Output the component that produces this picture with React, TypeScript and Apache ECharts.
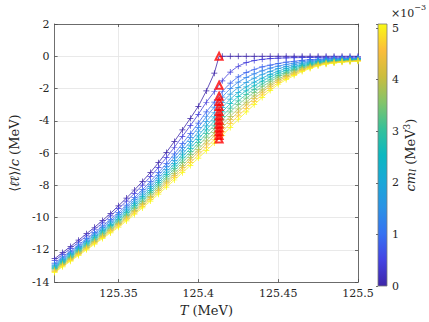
import React, { useEffect, useRef } from "react";
import * as echarts from "echarts";

// Temperature grid (MeV)
const TEMPERATURES = [
  125.31, 125.315, 125.32, 125.325, 125.33, 125.335, 125.34, 125.345, 125.35, 125.355,
  125.36, 125.365, 125.37, 125.375, 125.38, 125.385, 125.39, 125.395, 125.4, 125.405,
  125.41, 125.415, 125.42, 125.425, 125.43, 125.435, 125.44, 125.445, 125.45, 125.455,
  125.46, 125.465, 125.47, 125.475, 125.48, 125.485, 125.49, 125.495, 125.5,
];
const T_CRITICAL = 125.413;

// cm_l values (x 10^-3 MeV^3), one per curve
const CM_L = [0, 0.42, 0.85, 1.27, 1.69, 2.12, 2.54, 2.96, 3.39, 3.81, 4.23, 4.66, 5.08];
const CM_MAX = 5.08;

// cm_l = 0 curve: below T_c (on the first 21 temperatures) and above T_c
const CRIT_BELOW = [
  -12.55, -12.17, -11.79, -11.4, -11.0, -10.6, -10.18, -9.74, -9.27, -8.79,
  -8.29, -7.76, -7.2, -6.6, -5.96, -5.28, -4.57, -3.85, -3.1, -2.15, -1.05,
];
const CRIT_AT_TC = 0;
const CRIT_ABOVE = [0, 0, 0, 0, 0, 0, 0, 0, 0, 0, 0, 0, 0, 0, 0, 0, 0, 0];

const CURVE_1 = [-12.67, -12.29, -11.92, -11.53, -11.14, -10.74, -10.33, -9.9, -9.45, -8.98, -8.5, -7.99, -7.46, -6.89, -6.28, -5.64, -4.97, -4.3, -3.6, -2.85, -2.2, -1.52, -0.98, -0.62, -0.4, -0.27, -0.19, -0.15, -0.12, -0.1, -0.09, -0.08, -0.075, -0.07, -0.065, -0.06, -0.06, -0.055, -0.055];
const CURVE_2 = [-12.82, -12.44, -12.08, -11.69, -11.31, -10.92, -10.52, -10.11, -9.68, -9.23, -8.76, -8.27, -7.76, -7.22, -6.65, -6.05, -5.42, -4.79, -4.14, -3.45, -2.84, -2.2, -1.67, -1.28, -1.01, -0.82, -0.66, -0.55, -0.45, -0.37, -0.31, -0.25, -0.21, -0.18, -0.15, -0.13, -0.12, -0.11, -0.11];
const CURVE_3 = [-12.89, -12.52, -12.15, -11.78, -11.4, -11.01, -10.62, -10.22, -9.8, -9.35, -8.89, -8.41, -7.92, -7.39, -6.83, -6.25, -5.65, -5.04, -4.41, -3.75, -3.15, -2.53, -2.01, -1.61, -1.32, -1.09, -0.9, -0.74, -0.61, -0.51, -0.42, -0.34, -0.28, -0.23, -0.19, -0.17, -0.15, -0.14, -0.13];
const CURVE_4 = [-12.96, -12.59, -12.23, -11.86, -11.48, -11.1, -10.72, -10.32, -9.91, -9.47, -9.02, -8.55, -8.07, -7.55, -7.01, -6.45, -5.87, -5.29, -4.68, -4.05, -3.47, -2.87, -2.35, -1.94, -1.62, -1.36, -1.13, -0.94, -0.77, -0.64, -0.53, -0.43, -0.35, -0.28, -0.24, -0.2, -0.18, -0.17, -0.16];
const CURVE_5 = [-13.03, -12.66, -12.3, -11.93, -11.56, -11.19, -10.81, -10.42, -10.01, -9.58, -9.14, -8.68, -8.21, -7.7, -7.18, -6.64, -6.07, -5.51, -4.93, -4.32, -3.76, -3.18, -2.66, -2.24, -1.9, -1.61, -1.35, -1.12, -0.92, -0.76, -0.63, -0.51, -0.41, -0.33, -0.27, -0.24, -0.21, -0.2, -0.18];
const CURVE_6 = [-13.09, -12.72, -12.37, -12.0, -11.63, -11.26, -10.88, -10.5, -10.11, -9.68, -9.25, -8.79, -8.33, -7.84, -7.32, -6.8, -6.25, -5.71, -5.15, -4.56, -4.01, -3.45, -2.94, -2.5, -2.14, -1.83, -1.54, -1.28, -1.05, -0.87, -0.72, -0.58, -0.47, -0.37, -0.31, -0.27, -0.24, -0.22, -0.2];
const CURVE_7 = [-13.15, -12.78, -12.43, -12.06, -11.7, -11.33, -10.96, -10.58, -10.2, -9.78, -9.35, -8.91, -8.45, -7.97, -7.47, -6.96, -6.43, -5.91, -5.36, -4.8, -4.27, -3.72, -3.21, -2.77, -2.38, -2.05, -1.72, -1.44, -1.18, -0.98, -0.81, -0.65, -0.52, -0.42, -0.34, -0.29, -0.26, -0.24, -0.22];
const CURVE_8 = [-13.2, -12.84, -12.48, -12.12, -11.76, -11.4, -11.03, -10.66, -10.28, -9.87, -9.44, -9.01, -8.55, -8.09, -7.6, -7.1, -6.59, -6.08, -5.55, -5.01, -4.49, -3.95, -3.45, -3.0, -2.6, -2.24, -1.89, -1.58, -1.29, -1.07, -0.89, -0.71, -0.57, -0.45, -0.37, -0.32, -0.28, -0.26, -0.24];
const CURVE_9 = [-13.25, -12.9, -12.54, -12.19, -11.83, -11.47, -11.11, -10.74, -10.37, -9.96, -9.55, -9.12, -8.68, -8.22, -7.74, -7.26, -6.77, -6.28, -5.77, -5.25, -4.74, -4.22, -3.72, -3.26, -2.84, -2.45, -2.08, -1.73, -1.42, -1.18, -0.98, -0.78, -0.62, -0.49, -0.41, -0.35, -0.31, -0.28, -0.26];
const CURVE_10 = [-13.3, -12.94, -12.59, -12.24, -11.88, -11.52, -11.16, -10.8, -10.44, -10.04, -9.63, -9.2, -8.77, -8.32, -7.85, -7.39, -6.91, -6.42, -5.93, -5.43, -4.94, -4.43, -3.93, -3.46, -3.02, -2.62, -2.22, -1.85, -1.52, -1.26, -1.05, -0.83, -0.66, -0.53, -0.43, -0.37, -0.33, -0.3, -0.27];
const CURVE_11 = [-13.35, -13.0, -12.65, -12.29, -11.94, -11.59, -11.23, -10.88, -10.52, -10.12, -9.72, -9.3, -8.87, -8.43, -7.98, -7.53, -7.06, -6.6, -6.12, -5.64, -5.16, -4.66, -4.17, -3.69, -3.24, -2.81, -2.39, -1.99, -1.64, -1.36, -1.12, -0.89, -0.71, -0.56, -0.46, -0.4, -0.35, -0.32, -0.29];
const CURVE_12 = [-13.4, -13.05, -12.7, -12.35, -12.0, -11.65, -11.3, -10.95, -10.6, -10.21, -9.81, -9.4, -8.98, -8.55, -8.11, -7.67, -7.22, -6.77, -6.31, -5.85, -5.38, -4.9, -4.41, -3.92, -3.45, -3.0, -2.55, -2.13, -1.75, -1.45, -1.2, -0.95, -0.76, -0.6, -0.49, -0.42, -0.37, -0.34, -0.31];

// value of each curve at T_c (red triangles)
const TC_VALUES = [0, -1.8, -2.48, -2.8, -3.12, -3.42, -3.7, -3.96, -4.21, -4.45, -4.68, -4.91, -5.13];

const X_TICKS = [125.35, 125.4, 125.45, 125.5];
const Y_MIN = -14;
const Y_MAX = 2;
const Y_STEP = 2;

// colormap (parula-like)
const PARULA = [
  "#3e26a8", "#4443e4", "#3672f2", "#2a93e5", "#19a8d8", "#0bb8c0",
  "#36c199", "#83c46a", "#cbbd3e", "#fbbd3b", "#f9f915",
];

function hexToRgb(h: string) {
  const n = parseInt(h.slice(1), 16);
  return [(n >> 16) & 255, (n >> 8) & 255, n & 255];
}
function parula(t: number): string {
  const tt = Math.max(0, Math.min(1, t)) * (PARULA.length - 1);
  const i = Math.min(PARULA.length - 2, Math.floor(tt));
  const f = tt - i;
  const a = hexToRgb(PARULA[i]);
  const b = hexToRgb(PARULA[i + 1]);
  const c = a.map((v, k) => Math.round(v + (b[k] - v) * f));
  return `rgb(${c[0]},${c[1]},${c[2]})`;
}

const FONT = "DejaVu Serif";
const INK = "#262626";
const PLUS = "path://M4.4,0H5.6V10H4.4ZM0,4.4H10V5.6H0Z";

function lineSeries(data: any[], color: string, smooth: number | boolean) {
  return {
    type: "line",
    data,
    smooth,
    symbol: PLUS,
    symbolSize: 6,
    showSymbol: true,
    showAllSymbol: true,
    silent: true,
    itemStyle: { color },
    lineStyle: { color, width: 0.8 },
    emphasis: { disabled: true },
  };
}

export default function App() {
  const ref = useRef<HTMLDivElement>(null);
  useEffect(() => {
    const chart = echarts.init(ref.current!, null, { renderer: "svg" });
    const curves = [CURVE_1, CURVE_2, CURVE_3, CURVE_4, CURVE_5, CURVE_6, CURVE_7, CURVE_8, CURVE_9, CURVE_10, CURVE_11, CURVE_12];

    const critData: any[] = CRIT_BELOW.map((v, i) => [TEMPERATURES[i], v]);
    critData.push({ value: [T_CRITICAL, CRIT_AT_TC], symbol: "none" });
    CRIT_ABOVE.forEach((v, i) => critData.push([TEMPERATURES[CRIT_BELOW.length + i], v]));

    const series: any[] = [lineSeries(critData, parula(CM_L[0] / CM_MAX), false)];
    curves.forEach((c, idx) => {
      series.push(lineSeries(c.map((v, i) => [TEMPERATURES[i], v]), parula(CM_L[idx + 1] / CM_MAX), 0.25));
    });
    series.push({
      type: "scatter",
      data: TC_VALUES.map((v) => [T_CRITICAL, v]),
      symbol: "triangle",
      symbolSize: 7,
      silent: true,
      z: 5,
      itemStyle: { color: "rgba(255,255,255,0)", borderColor: "#ff0000", borderWidth: 2 },
    });

    const tickLabel = { fontFamily: FONT, fontSize: 11, color: INK };
    const axisLine = { show: true, onZero: false, lineStyle: { color: "#4a4a4a", width: 0.8 } };
    const tick = { show: true, inside: true, length: 3, lineStyle: { color: "#4a4a4a", width: 0.8 } };
    const gridLine = { show: true, lineStyle: { color: "#e3e3e3", width: 0.8 } };
    const titleRich = {
      i: { fontFamily: FONT, fontSize: 13, fontStyle: "italic", color: INK },
      a: { fontFamily: FONT, fontSize: 13, color: INK },
    };

    const option: any = {
      animation: false,
      backgroundColor: "#ffffff",
      textStyle: { fontFamily: FONT },
      grid: [
        { left: 51, top: 24, width: 307, height: 262 },
        { left: 378, top: 24, width: 9, height: 262 },
      ],
      xAxis: [
        {
          type: "value", gridIndex: 0, position: "bottom", min: 125.31, max: 125.5,
          axisLine, axisTick: { ...tick, customValues: X_TICKS },
          axisLabel: { ...tickLabel, margin: 6, customValues: X_TICKS, formatter: (v: number) => String(v) },
          splitLine: gridLine,
          name: "{i|T}{a| (MeV)}", nameLocation: "middle", nameGap: 20,
          nameTextStyle: { fontFamily: FONT, rich: titleRich },
        },
        {
          type: "value", gridIndex: 0, position: "top", min: 125.31, max: 125.5,
          axisLine, axisTick: { ...tick, customValues: X_TICKS },
          axisLabel: { show: false, customValues: X_TICKS }, splitLine: { show: false },
        },
        { type: "value", gridIndex: 1, min: 0, max: 1, show: false },
      ],
      yAxis: [
        {
          type: "value", gridIndex: 0, position: "left", min: Y_MIN, max: Y_MAX, interval: Y_STEP,
          axisLine, axisTick: tick,
          axisLabel: { ...tickLabel, margin: 5 },
          splitLine: gridLine,
          name: "{a|⟨}{i|ℓ\u0304ℓ}{a|⟩/}{i|c}{a| (MeV)}", nameLocation: "middle", nameGap: 22,
          nameTextStyle: { fontFamily: FONT, rich: titleRich },
        },
        {
          type: "value", gridIndex: 0, position: "right", min: Y_MIN, max: Y_MAX, interval: Y_STEP,
          axisLine, axisTick: tick, axisLabel: { show: false }, splitLine: { show: false },
        },
        {
          type: "value", gridIndex: 1, position: "right", min: 0, max: CM_MAX, interval: 1,
          axisLine: { show: false },
          axisTick: { show: true, inside: true, length: 2, lineStyle: { color: "#4a4a4a", width: 0.8 } },
          axisLabel: { ...tickLabel, margin: 5, formatter: (v: number) => (Number.isInteger(v) ? String(v) : "") },
          splitLine: { show: false },
          name: "{i|cm}{s|l}{a| (MeV}{p|3}{a|)}", nameLocation: "middle", nameRotate: 90, nameGap: 14,
          nameTextStyle: {
            fontFamily: FONT,
            rich: {
              i: { fontFamily: FONT, fontSize: 13, fontStyle: "italic", color: INK },
              s: { fontFamily: FONT, fontSize: 9, fontStyle: "italic", color: INK, verticalAlign: "bottom", padding: [6, 0, 0, 0] },
              a: { fontFamily: FONT, fontSize: 13, color: INK },
              p: { fontFamily: FONT, fontSize: 9, color: INK, verticalAlign: "top", padding: [0, 0, 6, 0] },
            },
          },
        },
      ],
      graphic: [
        {
          type: "rect",
          shape: { x: 378, y: 24, width: 9, height: 262 },
          style: {
            fill: new echarts.graphic.LinearGradient(0, 1, 0, 0, PARULA.map((c, i) => ({ offset: i / (PARULA.length - 1), color: c }))),
            stroke: "#7a7a7a",
            lineWidth: 0.8,
          },
          z: 0,
        },
        {
          type: "text",
          x: 391,
          y: 3,
          style: {
            text: "{a|×10}{p|−3}",
            fontFamily: FONT,
            rich: {
              a: { fontFamily: FONT, fontSize: 11, fill: INK, padding: [5, 0, 0, 0] },
              p: { fontFamily: FONT, fontSize: 8, fill: INK, verticalAlign: "top" },
            },
          },
        },
      ],
      series,
    };
    chart.setOption(option);
    return () => chart.dispose();
  }, []);
  return <div ref={ref} style={{ position: "fixed", left: 0, top: 0, width: 429, height: 322, background: "#fff" }} />;
}
